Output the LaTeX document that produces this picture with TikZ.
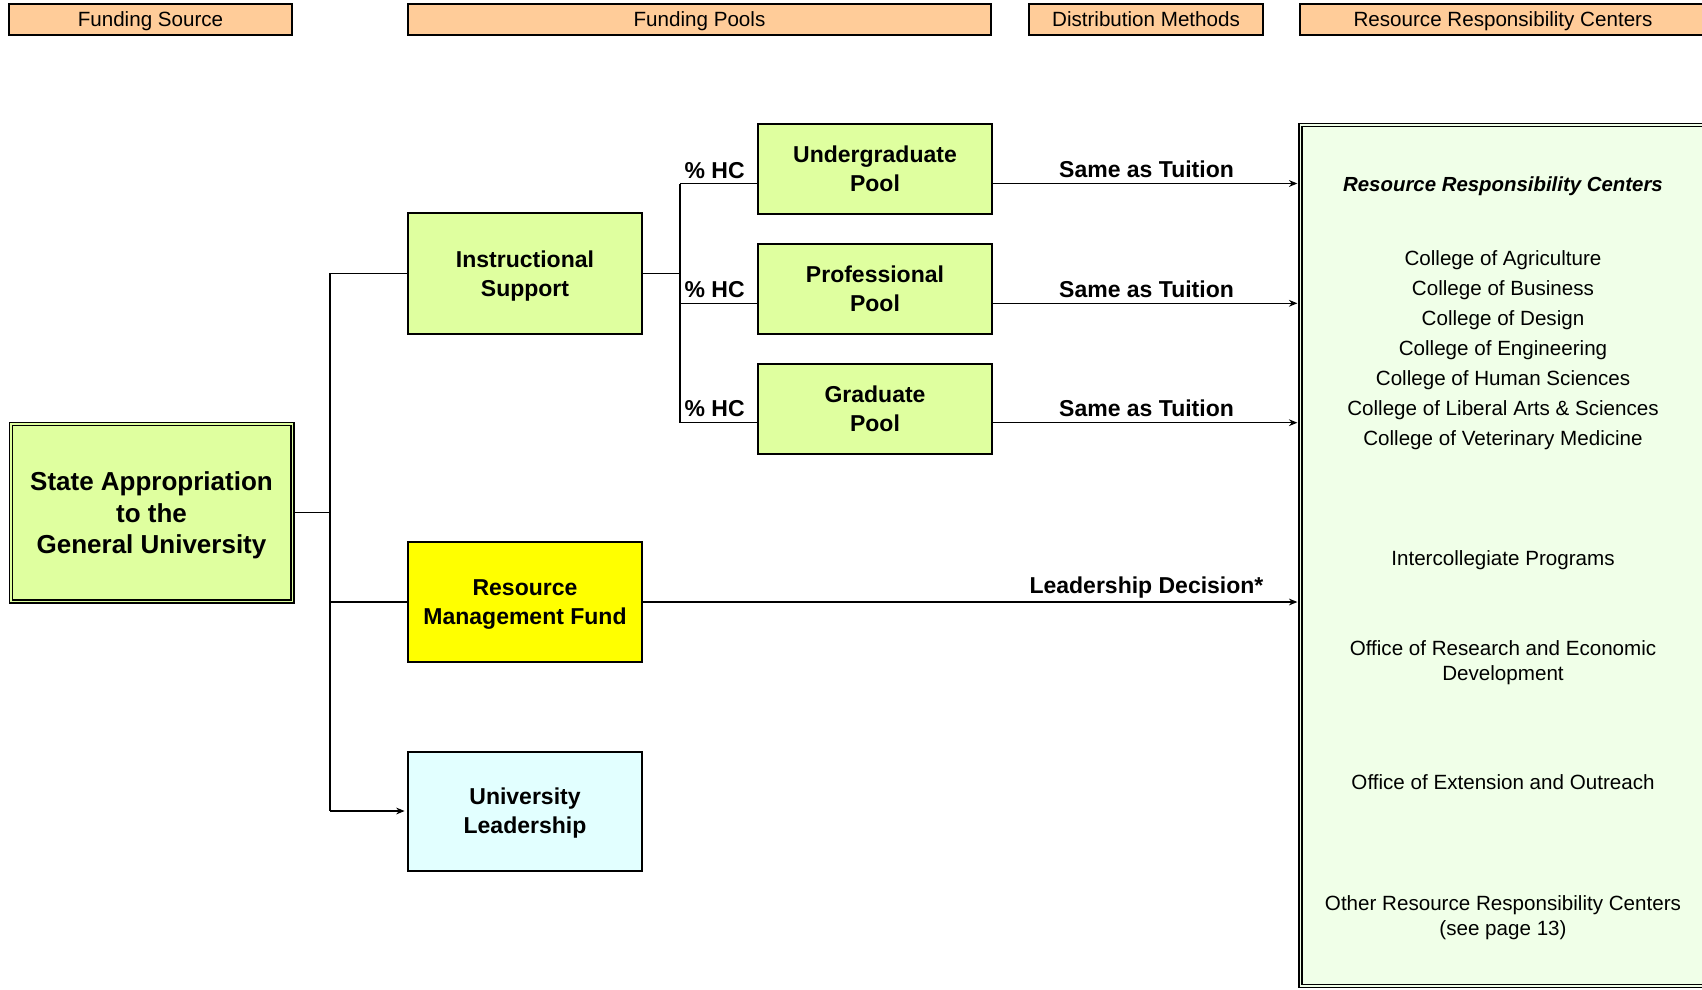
\documentclass[tikz,border=0pt]{standalone}
\usepackage{fontspec}
\setmainfont{Liberation Sans}
\usetikzlibrary{arrows.meta,calc}

\tikzset{
	hdrbox/.style={draw, line width=1pt, fill={rgb, 255:red, 255; green, 204; blue, 153}, inner sep=0pt, text depth=0pt, minimum height=15.5pt, font=\fontsize{10.3}{12}\selectfont},
	greenbox/.style={draw, line width=1pt, fill={rgb, 255:red, 223; green, 255; blue, 159}, inner sep=0pt, text depth=0pt, minimum width=117pt, align=center, font=\fontsize{11.5}{14.5}\selectfont\bfseries},
	statebox/.style={draw, line width=0.75pt, double={rgb, 255:red, 223; green, 255; blue, 159}, double distance=0.75pt, fill={rgb, 255:red, 223; green, 255; blue, 159}, inner sep=0pt, text depth=0pt, minimum width=140.75pt, minimum height=88.75pt, align=center, font=\fontsize{13}{15.8}\selectfont\bfseries},
	rrcframe/.style={draw, line width=0.75pt, double={rgb, 255:red, 240; green, 255; blue, 232}, double distance=0.75pt, fill={rgb, 255:red, 240; green, 255; blue, 232}, inner sep=0pt, minimum width=202.5pt, minimum height=430.5pt},
	flowlbl/.style={inner sep=0pt, font=\fontsize{11.5}{14}\selectfont\bfseries},
	rrctext/.style={inner sep=0pt, align=center, font=\fontsize{10.3}{12.5}\selectfont},
	arr/.style={-{Stealth[length=4.2pt,width=3.4pt]}, shorten >=1.2pt}
}
\tikzset{every picture/.style={line width=0.65pt}}

\begin{document}
\begin{tikzpicture}[x=0.5pt,y=0.5pt,yscale=-1,xscale=1]
	\useasboundingbox (0,0) rectangle (1702,990);

	%Shape: Header Boxes
	\node [hdrbox, minimum width=141.5pt] (hdrsrc) at (150.5,19.5) {Funding Source};
	\node [hdrbox, minimum width=291.5pt] (hdrpools) at (699.5,19.5) {Funding Pools};
	\node [hdrbox, minimum width=116.75pt] (hdrmeth) at (1146,19.5) {Distribution Methods};
	\node [hdrbox, minimum width=203pt] (hdrrrc) at (1503,19.5) {Resource Responsibility Centers};

	%Shape: Source
	\node [statebox] (stateapp) at (151.5,512.8) {State Appropriation\\to the\\General University};

	%Shape: Funding Pools
	\node [greenbox, minimum height=60.5pt] (instsup) at (525,273.5) {Instructional\\Support};
	\node [greenbox, minimum height=60pt, fill={rgb, 255:red, 255; green, 255; blue, 0}] (rmfund) at (525,602) {Resource\\Management Fund};
	\node [greenbox, minimum height=59.5pt, fill={rgb, 255:red, 226; green, 255; blue, 255}] (univlead) at (525,811) {University\\Leadership};

	\node [greenbox, minimum height=45pt] (ugpool) at (875,169) {Undergraduate\\Pool};
	\node [greenbox, minimum height=45pt] (profpool) at (875,289) {Professional\\Pool};
	\node [greenbox, minimum height=45pt] (gradpool) at (875,408.5) {Graduate\\Pool};

	%Shape: Resource Responsibility Centers
	\node [rrcframe] (rrcbox) at (1503,555.5) {};

	% Connectors
	\coordinate (mainbus) at (330,512.8);
	\coordinate (poolbus) at (680,273.5);
	\coordinate (ugin) at ($(ugpool.west)+(0,14.5)$);
	\coordinate (profin) at ($(profpool.west)+(0,14.3)$);
	\coordinate (gradin) at ($(gradpool.west)+(0,14.2)$);
	\coordinate (ugout) at ($(ugpool.east)+(0,14.5)$);
	\coordinate (profout) at ($(profpool.east)+(0,14.3)$);
	\coordinate (gradout) at ($(gradpool.east)+(0,14.2)$);

	\draw (stateapp.east) -- (mainbus);
	\draw (instsup.west) -- (instsup.west -| mainbus) -- (univlead.west -| mainbus);
	\draw (rmfund.west) -- (rmfund.west -| mainbus);
	\draw [arr] (univlead.west -| mainbus) -- (univlead.west);

	\draw (instsup.east) -- (poolbus);
	\draw (ugin -| poolbus) -- (gradin -| poolbus);
	\draw (ugin -| poolbus) -- (ugin);
	\draw (profin -| poolbus) -- (profin);
	\draw (gradin -| poolbus) -- (gradin);

	\draw [arr] (ugout) -- (ugout -| rrcbox.west);
	\draw [arr] (profout) -- (profout -| rrcbox.west);
	\draw [arr] (gradout) -- (gradout -| rrcbox.west);
	\draw [arr] (rmfund.east) -- (rmfund.east -| rrcbox.west);

	% Text Node
	\node [flowlbl, anchor=base west] (hcug) at (684,178) {\% HC};
	% Text Node
	\node [flowlbl, anchor=base west] (hcprof) at (684,297.5) {\% HC};
	% Text Node
	\node [flowlbl, anchor=base west] (hcgrad) at (684,416.5) {\% HC};
	% Text Node
	\node [flowlbl, anchor=base] (tuitug) at (1146.5,177) {Same as Tuition};
	% Text Node
	\node [flowlbl, anchor=base] (tuitprof) at (1146.5,297) {Same as Tuition};
	% Text Node
	\node [flowlbl, anchor=base] (tuitgrad) at (1146.5,416.5) {Same as Tuition};
	% Text Node
	\node [flowlbl, anchor=base] (leaddec) at (1146.5,593.5) {Leadership Decision*};

	% Text Node
	\node [rrctext, font=\fontsize{10.2}{12}\selectfont\bfseries\itshape] (rrctitle) at (1503,186) {Resource Responsibility Centers};
	% Text Node
	\node [rrctext] (cagr) at (1503,260) {College of Agriculture};
	% Text Node
	\node [rrctext] (cbus) at (1503,290) {College of Business};
	% Text Node
	\node [rrctext] (cdes) at (1503,320) {College of Design};
	% Text Node
	\node [rrctext] (ceng) at (1503,350.5) {College of Engineering};
	% Text Node
	\node [rrctext] (chum) at (1503,380) {College of Human Sciences};
	% Text Node
	\node [rrctext] (clas) at (1503,410) {College of Liberal Arts \& Sciences};
	% Text Node
	\node [rrctext] (cvet) at (1503,440.5) {College of Veterinary Medicine};
	% Text Node
	\node [rrctext] (icprog) at (1503,560) {Intercollegiate Programs};
	% Text Node
	\node [rrctext] (ored) at (1503,663) {Office of Research and Economic\\Development};
	% Text Node
	\node [rrctext] (oext) at (1503,782.5) {Office of Extension and Outreach};
	% Text Node
	\node [rrctext] (orrc) at (1503,918) {Other Resource Responsibility Centers\\(see page 13)};

\end{tikzpicture}
\end{document}
